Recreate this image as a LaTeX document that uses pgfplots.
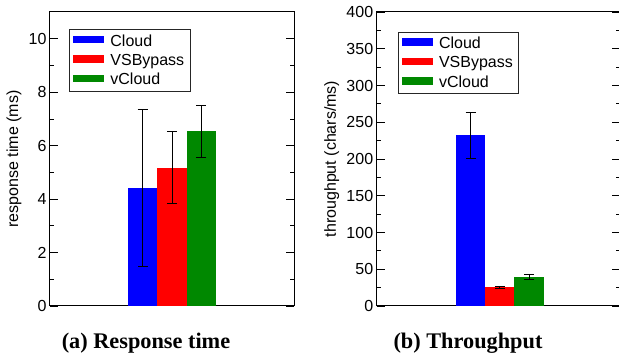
\documentclass[border=0pt]{standalone}
\usepackage{fontspec}
\setmainfont{Liberation Sans}
\newfontfamily\capfont{Liberation Serif}
\usepackage{pgfplots}
\pgfplotsset{compat=1.18}

\definecolor{cblue}{RGB}{0,0,255}
\definecolor{cred}{RGB}{255,0,0}
\definecolor{cgreen}{RGB}{0,136,0}

\pgfplotsset{
  myaxis/.style={
    scale only axis, height=294bp,
    anchor=south west,
    xtick=\empty,
    ymin=0,
    tick align=inside,
    ytick pos=both,
    yticklabel pos=left,
    major tick length=8bp, minor tick length=4bp,
    axis line style={line width=1bp, black},
    every tick/.style={black, line width=0.8bp},
    tick label style={font=\fontsize{16bp}{19bp}\selectfont},
    label style={font=\fontsize{16bp}{19bp}\selectfont},
    /pgf/number format/assume math mode=true,
    minor y tick num=1,
    legend cell align=left,
    legend style={font=\fontsize{16bp}{19bp}\selectfont, draw=black!85, line width=0.8bp, anchor=north west, inner xsep=4bp, inner ysep=3bp, row sep=2.5bp,
      /tikz/every odd column/.append style={column sep=4bp}},
    legend image code/.code={\fill[##1] (0bp,-0.22em) rectangle (31bp,0.52em);},
  },
  mybar/.style={ybar, bar width=1, bar shift=0, draw=none, fill=#1,
    error bars/.cd, y dir=both, y explicit,
    error bar style={black, line width=0.8bp},
    error mark options={rotate=90, mark size=5bp, black, line width=0.8bp}},
}

\begin{document}
\begin{tikzpicture}
\useasboundingbox (0,0) rectangle (619bp,356bp);

\begin{axis}[myaxis, at={(50bp,50bp)}, width=244bp,
  ymax=11, xmin=-4.14, xmax=4.14, ytick={0,2,...,10},
  ylabel={response time (ms)},
  ylabel style={at={(axis description cs:-0.1475,0.5)}, anchor=center},
  legend style={at={(0.078,0.942)}}]
\addplot[mybar=cblue] coordinates {(-1,4.43) +- (0,2.93)};
\addplot[mybar=cred] coordinates {(0,5.18) +- (0,1.36)};
\addplot[mybar=cgreen] coordinates {(1,6.53) +- (0,0.97)};
\legend{Cloud,VSBypass,vCloud}
\end{axis}

\begin{axis}[myaxis, at={(376.7bp,50bp)}, width=243.3bp,
  ymax=400, xmin=-4.2, xmax=4.1, ytick={0,50,...,400},
  ylabel={throughput (chars/ms)},
  ylabel style={at={(axis description cs:-0.185,0.5)}, anchor=center},
  legend style={at={(0.086,0.933)}}]
\addplot[mybar=cblue] coordinates {(-1,232) +- (0,31.5)};
\addplot[mybar=cred] coordinates {(0,25.4) +- (0,1.2)};
\addplot[mybar=cgreen] coordinates {(1,39) +- (0,3.4)};
\legend{Cloud,VSBypass,vCloud}
\end{axis}

\node[anchor=base, font={\capfont\bfseries\fontsize{22.3bp}{25bp}\selectfont}] at (146bp,8bp) {(a) Response time};
\node[anchor=base, font={\capfont\bfseries\fontsize{22.3bp}{25bp}\selectfont}] at (468bp,8bp) {(b) Throughput};
\end{tikzpicture}
\end{document}
